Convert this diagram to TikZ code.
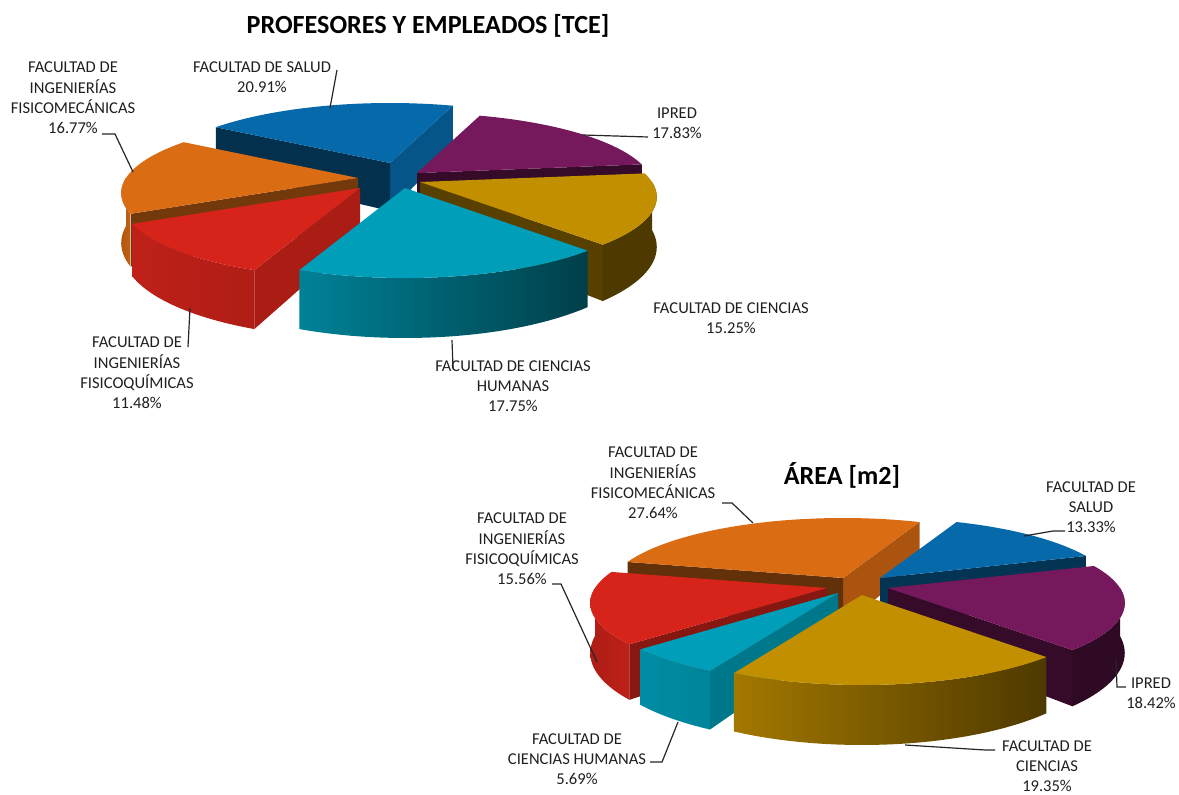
\documentclass[tikz,border=0pt]{standalone}
\usepackage{fontspec}
\setmainfont{Carlito}
\definecolor{cblue}{RGB}{6,106,170}
\definecolor{cpurple}{RGB}{118,24,92}
\definecolor{cgold}{RGB}{194,143,0}
\definecolor{ccyan}{RGB}{0,158,184}
\definecolor{cred}{RGB}{214,36,27}
\definecolor{corange}{RGB}{218,108,20}

\tikzset{
	leader/.style={draw=black!85, line width=0.9pt},
	lab/.style={align=center, inner sep=0pt, text=black!88, font=\fontsize{12.4}{15.2}\selectfont},
	ttl/.style={inner sep=0pt, text=black, font=\fontsize{19.6}{23}\selectfont\bfseries}
}

% one exploded slice: apex x, apex y, start angle, end angle, colour
\newcommand{\pieslice}[5]{%
	\pgfmathsetmacro{\wa}{max(#3,180)}%
	\pgfmathsetmacro{\wb}{min(#4,360)}%
	\pgfmathtruncatemacro{\la}{max(40,45+45*cos(\wa-215))}%
	\pgfmathtruncatemacro{\lb}{max(40,45+45*cos(\wb-215))}%
	\ifdim\wa pt<\wb pt
		\shade[left color=#5!\la!black, right color=#5!\lb!black]
			plot[domain=\wa:\wb, samples=30] ({#1+pu(\x)},{#2-pv(\x)})
			-- plot[domain=\wb:\wa, samples=30] ({#1+pu(\x)},{#2-pv(\x)+48*ps(\x)}) -- cycle;
	\fi
	\pgfmathsetmacro{\ca}{cos(#3)}%
	\ifdim\ca pt>0pt
		\pgfmathtruncatemacro{\ga}{45+40*max(0,cos(#3-90))^2}%
		\fill[#5!\ga!black] (#1,#2) -- ({#1+pu(#3)},{#2-pv(#3)})
			-- ({#1+pu(#3)},{#2-pv(#3)+48*ps(#3)}) -- (#1,#2+48) -- cycle;
	\fi
	\pgfmathsetmacro{\cb}{cos(#4)}%
	\ifdim\cb pt<0pt
		\pgfmathtruncatemacro{\gb}{45+40*max(0,cos(#4+90))^2}%
		\fill[#5!\gb!black] (#1,#2) -- ({#1+pu(#4)},{#2-pv(#4)})
			-- ({#1+pu(#4)},{#2-pv(#4)+48*ps(#4)}) -- (#1,#2+48) -- cycle;
	\fi
	\fill[#5] (#1,#2) -- plot[domain=#3:#4, samples=40] ({#1+pu(\x)},{#2-pv(\x)}) -- cycle;
}

\begin{document}
\begin{tikzpicture}[x=0.75pt, y=-0.75pt,
	declare function={ps(\t)=1/(1+0.2*sin(\t)); pu(\t)=232*cos(\t)*ps(\t); pv(\t)=72*sin(\t)*ps(\t);}]
	\useasboundingbox (0,0) rectangle (1179,795);
	
	% PROFESORES Y EMPLEADOS
	\pieslice{390}{163}{71.224}{146.5}{cblue}
	\pieslice{417}{173}{7.036}{71.224}{cpurple}
	\pieslice{358}{178}{146.5}{206.908}{corange}
	\pieslice{420}{182}{312.136}{367.036}{cgold}
	\pieslice{360}{188}{206.908}{248.236}{cred}
	\pieslice{405}{188}{248.236}{312.136}{ccyan}
	
	\node[ttl] (t1) at (428,26) {PROFESORES Y EMPLEADOS [TCE]};
	\node[lab] (lsalud) at (262,77) {FACULTAD DE SALUD\\20.91\%};
	\node[lab] (lfmec) at (73,98) {FACULTAD DE\\INGENIERÍAS\\FISICOMECÁNICAS\\16.77\%};
	\node[lab] (lipred) at (677,123) {IPRED\\17.83\%};
	\node[lab] (lcien) at (731,318) {FACULTAD DE CIENCIAS\\15.25\%};
	\node[lab] (lhum) at (513,386) {FACULTAD DE CIENCIAS\\HUMANAS\\17.75\%};
	\node[lab] (lfqui) at (137,373) {FACULTAD DE\\INGENIERÍAS\\FISICOQUÍMICAS\\11.48\%};
	
	\coordinate (s1) at (337,70);
	\coordinate (s2) at (330,108);
	\coordinate (f1) at (102,134);
	\coordinate (f2) at (115,134);
	\coordinate (f3) at (133,172);
	\coordinate (i1) at (648,137);
	\coordinate (i2) at (583,135);
	\coordinate (h1) at (452,340);
	\coordinate (h2) at (453,368);
	\coordinate (q1) at (190,308);
	\coordinate (q2) at (188,347);
	
	\draw[leader] (s1) -- (s2);
	\draw[leader] (f1) -- (f2) -- (f3);
	\draw[leader] (i1) -- (i2);
	\draw[leader] (h1) -- (h2);
	\draw[leader] (q1) -- (q2);
	
	% AREA
	\pieslice{843}{578}{66.996}{166.5}{corange}
	\pieslice{880}{578}{19.008}{66.996}{cblue}
	\pieslice{888}{588}{312.696}{379.008}{cpurple}
	\pieslice{827}{588}{166.5}{222.552}{cred}
	\pieslice{838}{593}{222.552}{243.036}{ccyan}
	\pieslice{862}{595}{243.036}{312.696}{cgold}
	
	\node[ttl] (t2) at (842,475) {ÁREA [m2]};
	\node[lab] (lfmec2) at (653,483) {FACULTAD DE\\INGENIERÍAS\\FISICOMECÁNICAS\\27.64\%};
	\node[lab] (lfqui2) at (522,549) {FACULTAD DE\\INGENIERÍAS\\FISICOQUÍMICAS\\15.56\%};
	\node[lab] (lhum2) at (577,759) {FACULTAD DE\\CIENCIAS HUMANAS\\5.69\%};
	\node[lab] (lsalud2) at (1091,507) {FACULTAD DE\\SALUD\\13.33\%};
	\node[lab] (lipred2) at (1151,693) {IPRED\\18.42\%};
	\node[lab] (lcien2) at (1047,766) {FACULTAD DE\\CIENCIAS\\19.35\%};
	
	\coordinate (m1) at (722,503);
	\coordinate (m2) at (732,503);
	\coordinate (m3) at (753,523);
	\coordinate (k1) at (552,584);
	\coordinate (k2) at (561,584);
	\coordinate (k3) at (597,662);
	\coordinate (u1) at (650,762);
	\coordinate (u2) at (662,762);
	\coordinate (u3) at (678,722);
	\coordinate (a1) at (1065,531);
	\coordinate (a2) at (1053,531);
	\coordinate (a3) at (1024,536);
	\coordinate (p1) at (1116,660);
	\coordinate (p2) at (1117,687);
	\coordinate (p3) at (1126,687);
	\coordinate (c1) at (905,745);
	\coordinate (c2) at (985,750);
	\coordinate (c3) at (995,750);
	
	\draw[leader] (m1) -- (m2) -- (m3);
	\draw[leader] (k1) -- (k2) -- (k3);
	\draw[leader] (u1) -- (u2) -- (u3);
	\draw[leader] (a1) -- (a2) -- (a3);
	\draw[leader] (p1) -- (p2) -- (p3);
	\draw[leader] (c1) -- (c2) -- (c3);
\end{tikzpicture}
\end{document}
